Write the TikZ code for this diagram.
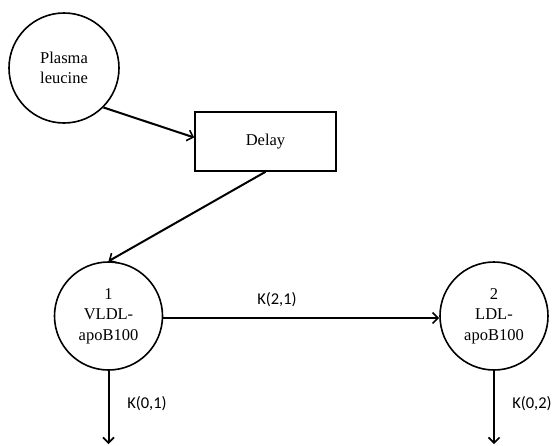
\documentclass[tikz,border=0pt]{standalone}
\usepackage{fontspec}
\setmainfont{Liberation Serif}
\newfontfamily\kfont{Carlito}
\usetikzlibrary{arrows.meta}
\begin{document}
\begin{tikzpicture}[x=1pt,y=-1pt,
  comp/.style={circle,draw,line width=1.6pt,inner sep=0pt,align=center,font=\fontsize{16.5}{20.5}\selectfont},
  boxnode/.style={rectangle,draw,line width=1.6pt,minimum width=141pt,minimum height=59pt,font=\fontsize{16.5}{20.5}\selectfont},
  flow/.style={line width=2pt,-{Straight Barb[length=5.5pt,width=11pt,line width=1.6pt]}},
  klabel/.style={font=\kfont\fontsize{16.5}{19}\selectfont}]
\useasboundingbox (0,0) rectangle (554,445);
\node[comp,minimum size=110pt] (pl) at (64,68) {Plasma\\leucine};
\node[boxnode] (delay) at (265.5,141.5) {Delay};
\node[comp,minimum size=108pt] (v1) at (108.5,316) {1\\VLDL-\\apoB100};
\node[comp,minimum size=108pt] (v2) at (494,316) {2\\LDL-\\apoB100};
\coordinate (o1) at (108.5,444);
\coordinate (o2) at (494,444);
\draw[flow] (pl.-45) -- ([yshift=4pt]delay.west);
\draw[flow] (delay.south) -- (v1.north);
\draw[flow] ([yshift=-2pt]v1.east) -- ([yshift=-2pt]v2.west);
\draw[flow] (v1.south) -- (o1);
\draw[flow] (v2.south) -- (o2);
\node[klabel] (k21) at (277,300) {K(2,1)};
\node[klabel] (k01) at (147,404) {K(0,1)};
\node[klabel] (k02) at (532,404) {K(0,2)};
\end{tikzpicture}
\end{document}
